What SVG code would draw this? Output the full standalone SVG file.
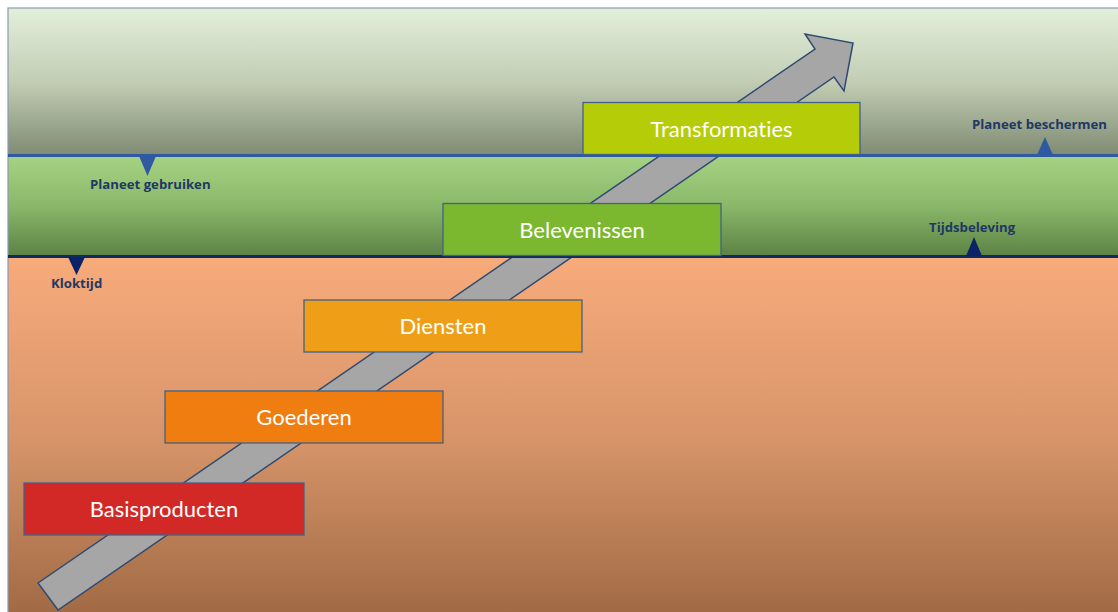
<svg xmlns="http://www.w3.org/2000/svg" width="1118" height="612" viewBox="0 0 1118 612">
<defs>
<linearGradient id="gTop" x1="0" y1="0" x2="0" y2="1">
<stop offset="0" stop-color="#e2efda"/>
<stop offset="0.5" stop-color="#c2cdb4"/>
<stop offset="1" stop-color="#7f8a72"/>
</linearGradient>
<linearGradient id="gMid" x1="0" y1="0" x2="0" y2="1">
<stop offset="0" stop-color="#a6d283"/>
<stop offset="0.5" stop-color="#8ab86a"/>
<stop offset="1" stop-color="#5c8245"/>
</linearGradient>
<linearGradient id="gBot" x1="0" y1="0" x2="0" y2="1">
<stop offset="0" stop-color="#f8ab7b"/>
<stop offset="0.5" stop-color="#d8956a"/>
<stop offset="1" stop-color="#a06a44"/>
</linearGradient>
<style>
.box{stroke:#41618c;stroke-width:1.3}
.bt{font-family:Lato,"Open Sans",sans-serif;font-size:22px;fill:#ffffff;text-anchor:middle;font-variant-ligatures:none}
.lab{font-family:"Open Sans","Noto Sans",sans-serif;font-size:13.2px;font-weight:bold;fill:#1f3864}
</style>
</defs>
<g id="background">
<rect x="8" y="8" width="1120" height="148" fill="url(#gTop)"/>
<rect x="8" y="156" width="1120" height="100" fill="url(#gMid)"/>
<rect x="8" y="256" width="1120" height="360" fill="url(#gBot)"/>
<rect x="8" y="8" width="1120" height="610" fill="none" stroke="#8a9ab5" stroke-width="1.2"/>
</g>
<g id="connectors">
<polygon id="arrow" points="38,583 815,49 805,34 853,43 844,91 834,77 58,610" fill="#a6a6a6" stroke="#2e4a70" stroke-width="1.5" stroke-linejoin="miter"/>
</g>
<g id="lines">
<line x1="8" y1="155.5" x2="1118" y2="155.5" stroke="#2f5aa2" stroke-width="3"/>
<line x1="8" y1="256.5" x2="1118" y2="256.5" stroke="#0f2a60" stroke-width="3"/>
</g>
<g id="node-transformaties">
<rect class="box" x="583" y="102.5" width="277" height="52" fill="#b5cc09"/>
<text class="bt" x="721.5" y="137">Transformaties</text>
</g>
<g id="node-belevenissen">
<rect class="box" x="443" y="203.5" width="278" height="52" fill="#7cb82f"/>
<text class="bt" x="582" y="238">Belevenissen</text>
</g>
<g id="node-diensten">
<rect class="box" x="304" y="300" width="278" height="52" fill="#ee9f17"/>
<text class="bt" x="443" y="334">Diensten</text>
</g>
<g id="node-goederen">
<rect class="box" x="165" y="391" width="278" height="52" fill="#f07d10"/>
<text class="bt" x="304" y="425">Goederen</text>
</g>
<g id="node-basisproducten">
<rect class="box" x="24" y="483" width="280" height="52" fill="#d22927"/>
<text class="bt" x="164" y="517">Basisproducten</text>
</g>
<g id="marker-planeet-gebruiken">
<polygon points="139,156 156,156 147.5,176" fill="#2f5aa2"/>
<text class="lab" x="90" y="189">Planeet gebruiken</text>
</g>
<g id="marker-kloktijd">
<polygon points="68,257 85,257 76.5,275" fill="#0c2266"/>
<text class="lab" x="51" y="288">Kloktijd</text>
</g>
<g id="marker-planeet-beschermen">
<polygon points="1037,155 1053,155 1045,137" fill="#2f5aa2"/>
<text class="lab" x="972" y="129">Planeet beschermen</text>
</g>
<g id="marker-tijdsbeleving">
<polygon points="966,256 982,256 974,237" fill="#0c2266"/>
<text class="lab" x="929" y="232">Tijdsbeleving</text>
</g>
</svg>
